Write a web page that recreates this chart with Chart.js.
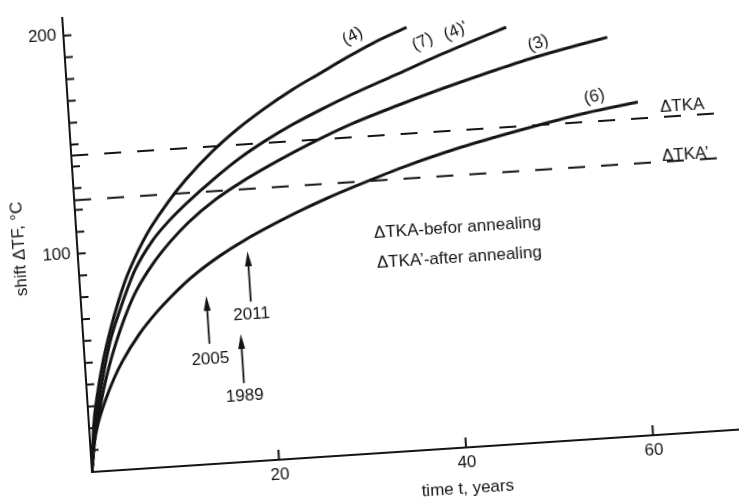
<!DOCTYPE html>
<html>
<head>
<meta charset="utf-8">
<title>Shift vs time</title>
<script src="https://cdn.jsdelivr.net/npm/chart.js"></script>
<style>
    body { margin: 0; background: #fff; overflow: hidden; width: 739px; height: 500px; }
    /* the scanned figure sits a few degrees off square */
    #wrap { position: absolute; left: 0; top: 0; width: 800px; height: 540px;
            transform-origin: 92px 472px; transform: rotate(-3.75deg); }
</style>
</head>
<body>
<div id="wrap"><canvas id="shiftChart"></canvas></div>

<script>
    // time t (years) and shift ΔTF (°C)
    const t4 = [0, 0.5, 1, 2, 3, 4, 5, 6, 7, 8, 10, 12, 15, 18, 21, 24, 27, 30, 33, 36.6];
    const v4 = [0, 21, 33, 51, 65, 77, 87.5, 96, 103.5, 110, 121, 130.5, 142.5, 152.5, 161, 168.5, 175, 181.5, 187.5, 193.5];

    const t7 = [0, 0.5, 1, 2, 3, 4, 5, 6, 8, 10, 12, 15, 18, 21, 24, 27, 30, 35, 40, 44, 47.2];
    const v7 = [0, 17, 28, 46, 61, 72, 82, 91, 103.5, 112.5, 120, 130, 139, 146.5, 153, 158.7, 164, 172, 180, 186, 190.6];

    const t3 = [0, 0.5, 1, 2, 3, 4, 5, 6, 8, 10, 12, 15, 18, 21, 24, 27, 30, 35, 40, 45, 50, 55, 57.9];
    const v3 = [0, 15, 24, 40, 53, 64, 73.5, 81.5, 93.5, 103, 111, 120.5, 128, 134.5, 140.5, 146, 151, 158, 164.5, 170.5, 176, 180.5, 183];

    const t6 = [0, 0.5, 1, 2, 3, 4, 6, 8, 10, 12, 15, 18, 21, 24, 27, 30, 35, 40, 45, 50, 55, 60.7];
    const v6 = [0, 14, 22, 33, 42, 49.5, 61.5, 71, 79, 86, 94.5, 101.5, 107.5, 113, 118, 122.5, 129.5, 135.5, 140.5, 145, 149, 152.5];

    // ΔTKA (before annealing) and ΔTKA' (after annealing)
    const tkaT = [0, 70];
    const tkaV = [145, 145];
    const tka2V = [124.5, 124.5];

    const xTickLabels = [20, 40, 60];
    const yTickLabels = [100, 200];
    const yTickMarks = [10, 20, 30, 40, 50, 60, 70, 80, 90, 100, 110, 120, 130, 140, 150, 160, 170, 180, 190, 200];

    const ink = '#141414';
    const fontFamily = '"Liberation Sans", Arial, sans-serif';
    Chart.defaults.font.family = fontFamily;
    Chart.defaults.color = ink;

    const pts = (ts, vs) => ts.map((t, i) => ({x: t, y: vs[i]}));

    const curve = (label, ts, vs) => ({
        label: label,
        data: pts(ts, vs),
        borderColor: ink,
        borderWidth: 3,
        pointRadius: 0,
        fill: false,
        cubicInterpolationMode: 'monotone'
    });

    const dashed = (label, vs) => ({
        label: label,
        data: pts(tkaT, vs),
        borderColor: ink,
        borderWidth: 2,
        borderDash: [17, 16],
        pointRadius: 0,
        fill: false
    });

    // text placed in data units
    const curveLabels = [
        {text: '(4)', t: 30.8, v: 191, rot: -24},
        {text: '(7)', t: 38.2, v: 186.3, rot: -22},
        {text: "(4)'", t: 41.8, v: 190.3, rot: -20},
        {text: '(3)', t: 50.5, v: 182.3, rot: -16},
        {text: '(6)', t: 56.1, v: 156.2, rot: -9},
        {text: 'ΔTKA', t: 65.4, v: 149.5, rot: 0},
        {text: 'ΔTKA’', t: 65.4, v: 127.2, rot: 0}
    ];
    const notes = [
        {text: 'ΔTKA-befor annealing', t: 31.7, v: 100.3},
        {text: 'ΔTKA’-after annealing', t: 31.8, v: 86.6}
    ];
    const arrows = [
        {text: '2011', t: 18.1, from: 73, to: 96, labelV: 67},
        {text: '2005', t: 13.4, from: 55, to: 77, labelV: 48},
        {text: '1989', t: 16.8, from: 36, to: 58.5, labelV: 30}
    ];

    const marks = {
        id: 'marks',
        afterDraw(chart) {
            const {ctx, chartArea, scales: {x, y}} = chart;
            ctx.save();
            ctx.strokeStyle = ink;
            ctx.fillStyle = ink;
            ctx.lineWidth = 2;

            // tick marks point into the plot
            ctx.beginPath();
            yTickMarks.forEach(v => {
                const py = y.getPixelForValue(v);
                ctx.moveTo(chartArea.left, py);
                ctx.lineTo(chartArea.left + 8, py);
            });
            xTickLabels.forEach(t => {
                const px = x.getPixelForValue(t);
                ctx.moveTo(px, chartArea.bottom);
                ctx.lineTo(px, chartArea.bottom - 10);
            });
            ctx.stroke();

            ctx.font = '17px ' + fontFamily;
            ctx.textAlign = 'center';
            ctx.textBaseline = 'middle';
            curveLabels.forEach(l => {
                ctx.save();
                ctx.translate(x.getPixelForValue(l.t), y.getPixelForValue(l.v));
                ctx.rotate(l.rot * Math.PI / 180);
                ctx.fillText(l.text, 0, 0);
                ctx.restore();
            });

            ctx.textAlign = 'left';
            notes.forEach(n => ctx.fillText(n.text, x.getPixelForValue(n.t), y.getPixelForValue(n.v)));

            ctx.textAlign = 'center';
            arrows.forEach(a => {
                const px = x.getPixelForValue(a.t);
                const y0 = y.getPixelForValue(a.from);
                const y1 = y.getPixelForValue(a.to);
                ctx.lineWidth = 1.8;
                ctx.beginPath();
                ctx.moveTo(px, y0);
                ctx.lineTo(px, y1 + 12);
                ctx.stroke();
                ctx.beginPath();
                ctx.moveTo(px, y1);
                ctx.lineTo(px - 3.5, y1 + 15);
                ctx.lineTo(px + 3.5, y1 + 15);
                ctx.closePath();
                ctx.fill();
                ctx.fillText(a.text, px, y.getPixelForValue(a.labelV));
            });

            // x axis title sits under the 40 tick
            ctx.fillText('time t, years', x.getPixelForValue(39.9), chartArea.bottom + 41);
            ctx.restore();
        }
    };

    const ctx = document.getElementById('shiftChart').getContext('2d');
    const shiftChart = new Chart(ctx, {
        type: 'line',
        data: {
            datasets: [
                curve('(4)', t4, v4),
                curve("(7) (4)'", t7, v7),
                curve('(3)', t3, v3),
                curve('(6)', t6, v6),
                dashed('ΔTKA', tkaV),
                dashed('ΔTKA’', tka2V)
            ]
        },
        options: {
            responsive: true,
            maintainAspectRatio: false,
            animation: false,
            layout: {padding: {left: 0, top: 14, right: 52, bottom: 0}},
            plugins: {legend: {display: false}, tooltip: {enabled: false}},
            scales: {
                x: {
                    type: 'linear',
                    min: 0,
                    max: 70,
                    grid: {display: false, drawTicks: false},
                    border: {display: true, color: ink, width: 2},
                    ticks: {
                        stepSize: 20,
                        includeBounds: false,
                        autoSkip: false,
                        padding: 5,
                        font: {size: 17},
                        callback: v => xTickLabels.includes(v) ? String(v) : ''
                    },
                    afterFit: s => { s.height = 68; }
                },
                y: {
                    min: 0,
                    max: 208,
                    grid: {display: false, drawTicks: false},
                    border: {display: true, color: ink, width: 2},
                    ticks: {
                        stepSize: 10,
                        includeBounds: false,
                        autoSkip: false,
                        padding: 7,
                        font: {size: 17},
                        callback: v => yTickLabels.includes(v) ? String(v) : ''
                    },
                    title: {
                        display: true,
                        text: 'shift ΔTF, °C',
                        font: {size: 17},
                        padding: {top: 24, bottom: 0}
                    },
                    afterFit: s => { s.width = 92; }
                }
            }
        },
        plugins: [marks]
    });
</script>
</body>
</html>
